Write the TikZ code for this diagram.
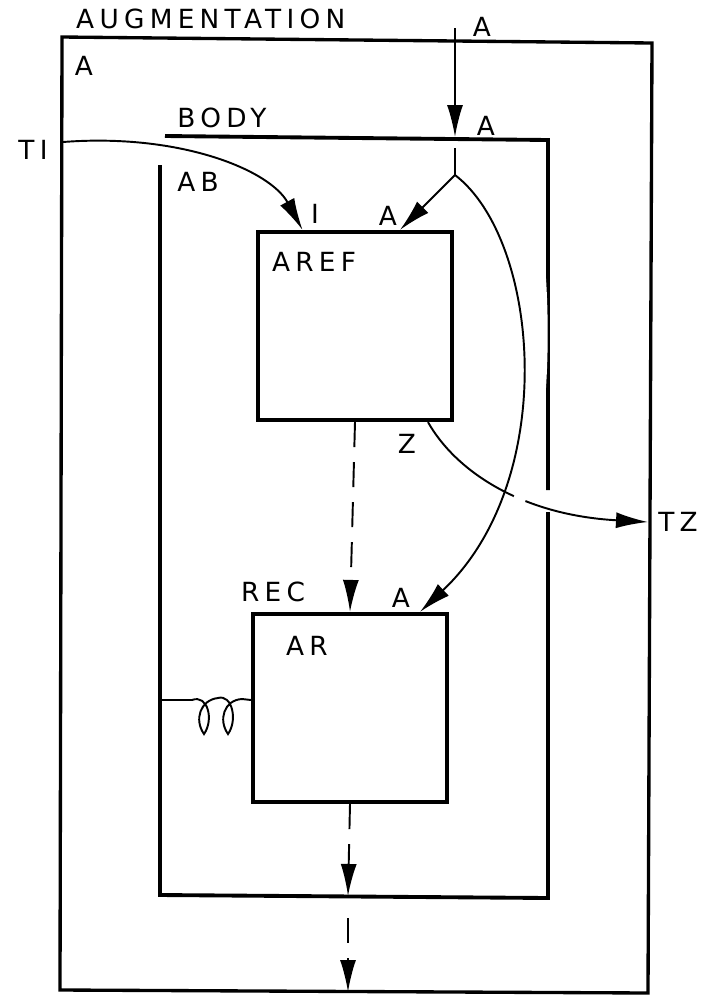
\documentclass[tikz,border=0pt]{standalone}
\usepackage{fontspec}
\newfontfamily\handfont[LetterSpace=20]{DejaVu Sans}
\usetikzlibrary{arrows.meta,positioning}

\begin{document}
\begin{tikzpicture}[x=0.02cm,y=-0.02cm,>={Latex[length=6.4mm,width=3.2mm]},
    box/.style={draw,line width=2.4pt,minimum width=3.88cm,minimum height=3.76cm,inner sep=0pt},
    lab/.style={font=\handfont\fontsize{15}{17}\selectfont},
    wire/.style={line width=1.1pt},
    wall/.style={line width=2.2pt}]
    \useasboundingbox (0,0) rectangle (705,1002);
    \node[box] (aref) at (355,326) {};
    \node[box] (ar) at (350,708) {};
    \draw[line width=1.9pt] (62,37)--(652,43)--(648,993)--(60,990)--cycle;
    \draw[wall] (165,136)--(548,140)--(548,490);
    \draw[wall] (548,512)--(548,898)--(160,895)--(160,165);
    \node[lab,anchor=west] (augtext) at (70,19) {AUGMENTATION};
    \node[lab] (augA) at (84,66) {A};
    \node[lab] (inA) at (482,27) {A};
    \node[lab] (bodytext) at (222,118) {BODY};
    \node[lab] (bodyA) at (486,126) {A};
    \node[lab] (ti) at (33,150) {TI};
    \node[lab] (ab) at (198,182) {AB};
    \node[lab] (arefI) at (315,214) {I};
    \node[lab] (arefA) at (388,216) {A};
    \node[lab] (areftext) at (314,262) {AREF};
    \node[lab] (zout) at (407,444) {Z};
    \node[lab] (tz) at (678,522) {TZ};
    \node[lab] (rec) at (273,592) {REC};
    \node[lab] (arA) at (401,598) {A};
    \node[lab] (artext) at (307,646) {AR};
    \coordinate (top) at (455,28);
    \coordinate (bodyin) at (455,137);
    \coordinate (split) at (455,175);
    \coordinate (tiin) at (63,142);
    \coordinate (tzout) at (648,522);
    \coordinate (bodyout) at (348,896);
    \coordinate (augout) at (348,992);
    \draw[wire,->] (top)--(bodyin);
    \draw[wire] (455,148)--(split);
    \draw[wire,->] (split)--([xshift=0.9cm]aref.north);
    \draw[wire,->] (tiin) .. controls (180,133) and (270,170) .. ([xshift=-1.05cm]aref.north);
    \draw[wire,->] ([xshift=1.46cm]aref.south) .. controls (455,470) and (520,515) .. (tzout);
    \draw[white,line width=7pt,shorten <=2cm,shorten >=2cm] (split) .. controls (540,240) and (560,480) .. ([xshift=1.4cm]ar.north);
    \draw[wire,->] (split) .. controls (540,240) and (560,480) .. ([xshift=1.4cm]ar.north);
    \draw[wire,dash pattern=on 0.5cm off 0.3cm,->] (aref.south)--(ar.north);
    \draw[wire,dash pattern=on 0.5cm off 0.3cm,->] (ar.south)--(bodyout);
    \draw[wire,dash pattern=on 0.5cm off 0.3cm,->] (348,918)--(augout);
    \draw[wire] (160,700)--(192,700) .. controls (208,694) and (214,720) .. (204,734)
        .. controls (194,720) and (200,700) .. (218,698)
        .. controls (232,694) and (238,720) .. (228,734)
        .. controls (218,720) and (224,700) .. (242,699)--(ar.west |- 0,700);
\end{tikzpicture}
\end{document}
